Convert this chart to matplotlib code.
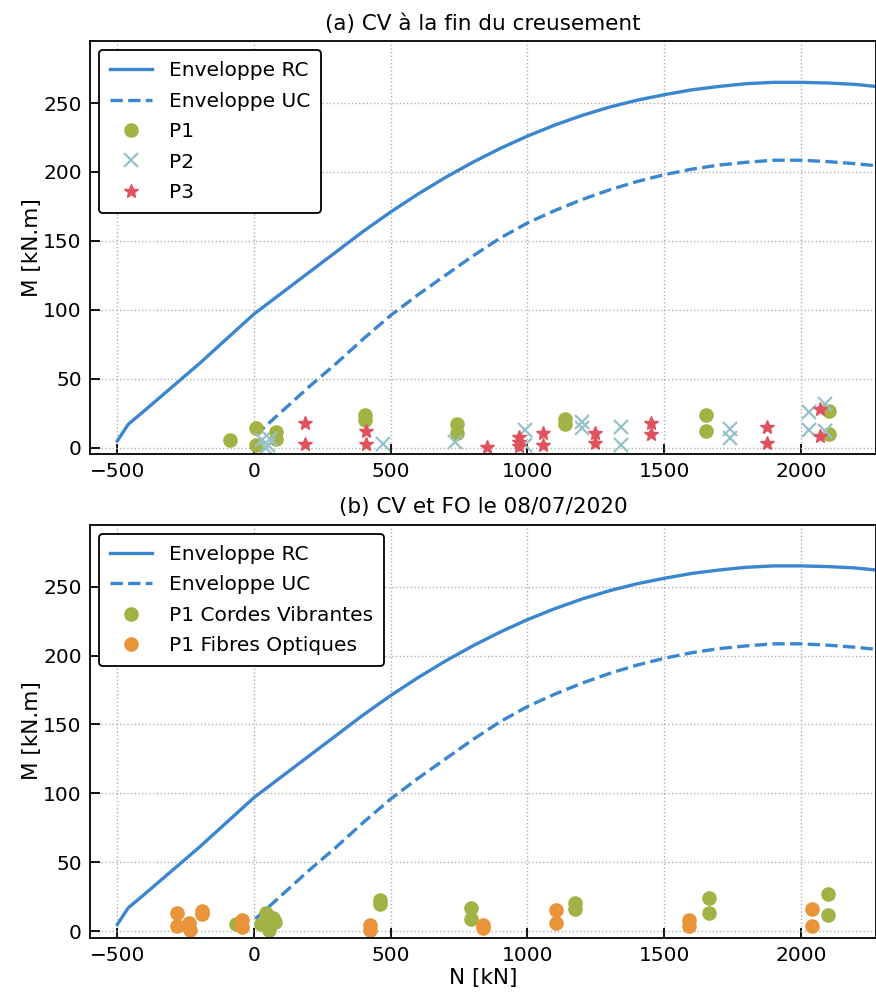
import matplotlib
matplotlib.use("Agg")
import matplotlib.pyplot as plt

# interaction envelopes (N [kN], M [kN.m])
RC_N = [-500, -460, -400, -300, -200, -100, 0, 100, 200, 300, 400, 500, 600, 700, 800,
        900, 1000, 1100, 1200, 1300, 1400, 1500, 1600, 1700, 1800, 1900, 2000, 2100, 2200, 2275]
RC_M = [5, 17, 27, 44, 61, 79, 97, 112, 127, 142, 157, 171, 184, 196, 207,
        217, 226, 234, 241, 247, 252, 256, 259.5, 262, 264, 265, 265, 264.5, 263.5, 262]
UC_N = [5, 100, 200, 300, 400, 500, 600, 700, 800, 900, 1000, 1100, 1200, 1300, 1400,
        1500, 1600, 1700, 1800, 1900, 2000, 2100, 2200, 2275]
UC_M = [9, 26, 44, 61, 79, 96, 111, 125, 139, 152, 163, 172, 180, 187, 193,
        198, 202, 205, 207, 208.5, 208.5, 207.5, 206, 204.5]

# (a) vibrating wires at end of excavation
P1_N = [-89, 9, 9, 82, 82, 405, 405, 744, 744, 1137, 1137, 1653, 1653, 2104, 2104]
P1_M = [5.3, 14.3, 2, 11.4, 6.5, 23.5, 20, 17.4, 10.6, 21, 17, 24, 12.5, 27, 10]
P2_N = [30, 50, 60, 45, 470, 734, 993, 993, 1198, 1198, 1344, 1344, 1741, 1741,
        2031, 2031, 2088, 2088]
P2_M = [5.8, 2, 6, 0, 2.7, 4.1, 13, 2.2, 19, 14.5, 15.4, 1.7, 13.5, 7.0,
        25.6, 13, 31.5, 12.5]
P3_N = [188, 188, 408, 408, 854, 970, 970, 970, 1057, 1057, 1247, 1247, 1452, 1452,
        1875, 1875, 2070, 2070]
P3_M = [18.3, 2.7, 11.8, 2.7, 0.5, 8, 4, 1, 10.6, 1.7, 10.6, 3.8, 17.9, 9.9,
        14.7, 3.4, 28.3, 8.2]

# (b) vibrating wires vs optical fibres on 08/07/2020
CV_N = [-65, 25, 45, 55, 70, 75, 462, 462, 795, 795, 1173, 1173, 1665, 1665, 2098, 2098]
CV_M = [5, 5.6, 13.5, 1, 10, 7, 22.5, 20, 17, 9, 20.5, 16, 24, 13.5, 27, 11.5]
FO_N = [-281, -281, -238, -235, -192, -192, -43, -43, 426, 426, 838, 838,
        1104, 1104, 1590, 1590, 2042, 2042]
FO_M = [13.5, 3.8, 6.3, 1, 15, 12.5, 8, 3.1, 4.3, 0.7, 4.3, 2.2,
        15.5, 6.3, 8.5, 3.6, 16.4, 3.8]

BLUE = "#3a86cf"
GREEN = "#a3b245"
CROSS = "#96c1c8"
RED = "#e0525e"
ORANGE = "#e9943a"

plt.rcParams["font.family"] = "DejaVu Sans"
fig = plt.figure(figsize=(8.76, 9.94), dpi=100)
ax_a = fig.add_axes([0.1027, 0.5433, 0.8973, 0.4155])
ax_b = fig.add_axes([0.1027, 0.0568, 0.8973, 0.4155])


def envelopes(ax):
    ax.plot(RC_N, RC_M, color=BLUE, lw=2.4, label="Enveloppe RC")
    ax.plot(UC_N, UC_M, color=BLUE, lw=2.4, ls="--", label="Enveloppe UC")


def style(ax, title):
    ax.set_xlim(-600, 2275)
    ax.set_ylim(-4.5, 295)
    ax.set_xticks([-500, 0, 500, 1000, 1500, 2000])
    ax.set_yticks([0, 50, 100, 150, 200, 250])
    ax.tick_params(direction="in", labelsize=14.5, length=7, width=1.3, pad=6)
    ax.grid(True, ls=":", color="#b0b0b0", lw=1)
    ax.set_axisbelow(True)
    ax.set_ylabel("M [kN.m]", fontsize=15.5, labelpad=1)
    ax.set_title(title, fontsize=15.5, pad=8)
    for s in ax.spines.values():
        s.set_linewidth(1.3)
    leg = ax.legend(loc="upper left", fontsize=14.5, framealpha=1, edgecolor="black",
                    fancybox=True, borderpad=0.55, handlelength=2.1, labelspacing=0.57,
                    handletextpad=0.8, borderaxespad=0.45)
    leg.get_frame().set_linewidth(1.3)


envelopes(ax_a)
ax_a.plot(P1_N, P1_M, "o", color=GREEN, ms=9.5, label="P1")
ax_a.plot(P2_N, P2_M, "x", color=CROSS, ms=9.5, mew=1.6, label="P2")
ax_a.plot(P3_N, P3_M, "*", color=RED, ms=10.5, label="P3")
style(ax_a, "(a) CV à la fin du creusement")

envelopes(ax_b)
ax_b.plot(CV_N, CV_M, "o", color=GREEN, ms=9.5, label="P1 Cordes Vibrantes")
ax_b.plot(FO_N, FO_M, "o", color=ORANGE, ms=9.5, label="P1 Fibres Optiques")
style(ax_b, "(b) CV et FO le 08/07/2020")
ax_b.set_xlabel("N [kN]", fontsize=15.5, labelpad=2)

fig.savefig("out.png", dpi=100)
